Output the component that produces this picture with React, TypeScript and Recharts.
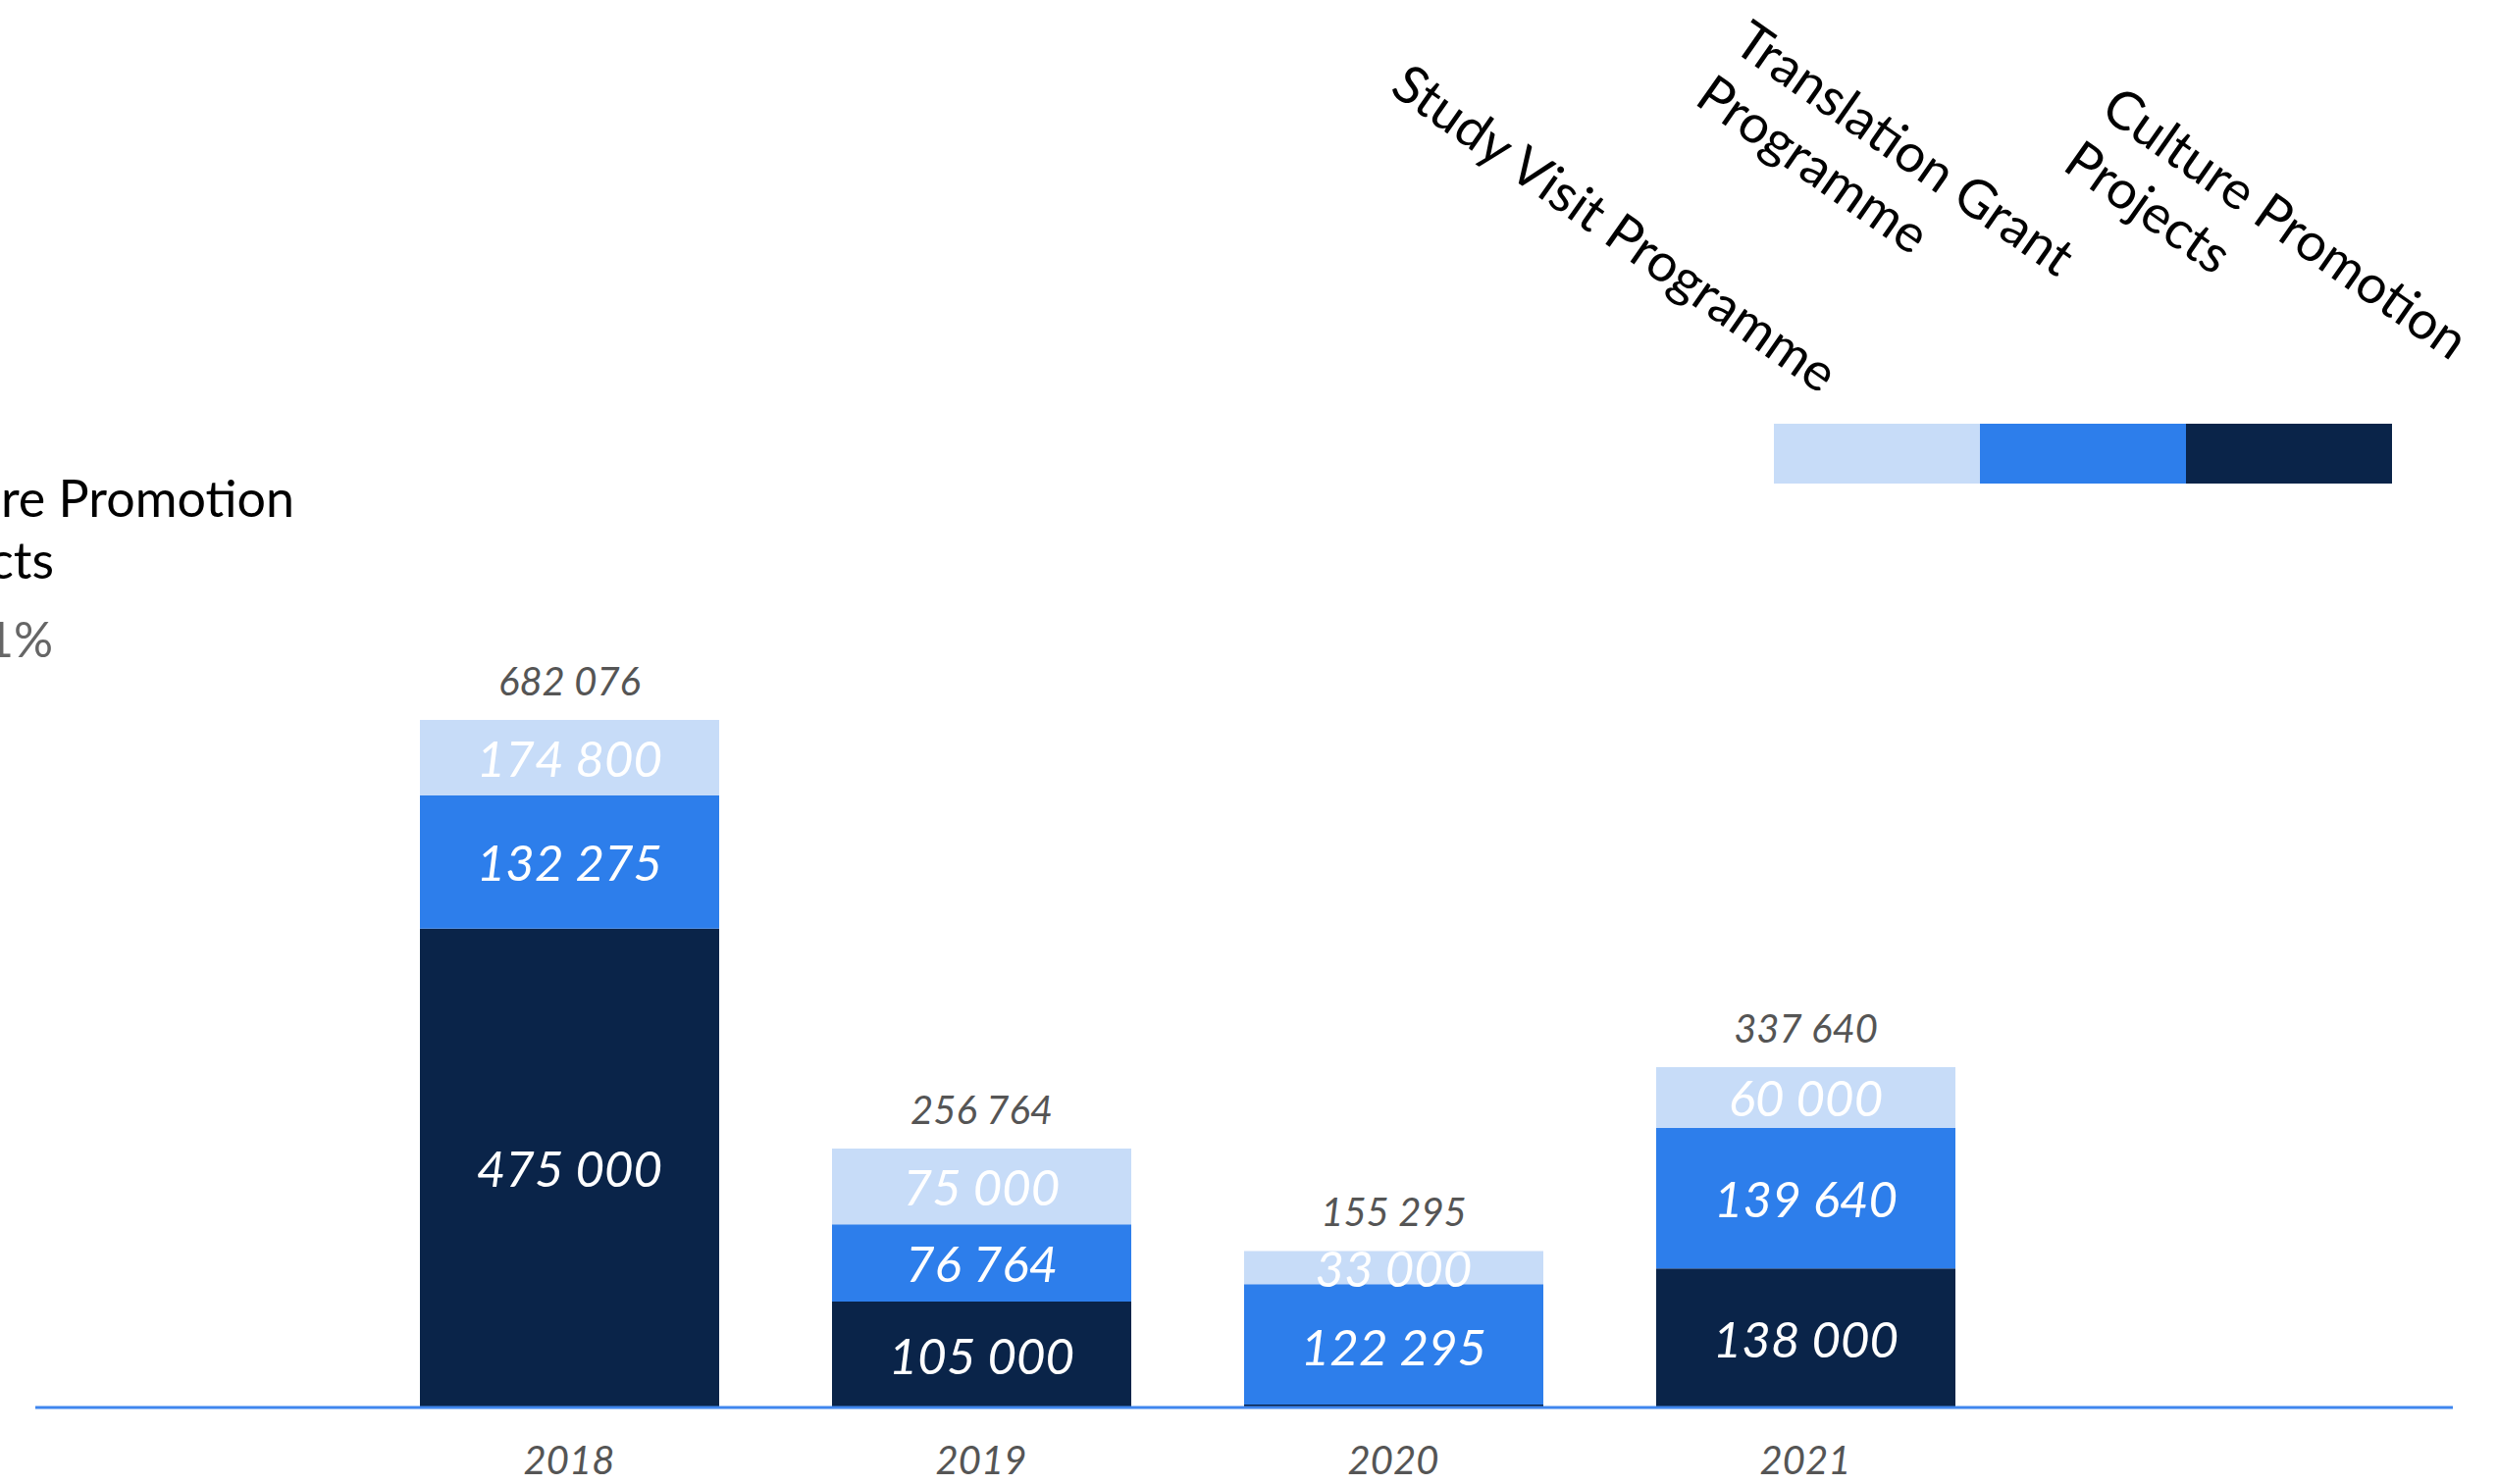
import React from "react";
import { BarChart, Bar, XAxis, YAxis, LabelList, Legend, Customized, Rectangle } from "recharts";

const years = ["2018", "2019", "2020", "2021"];
const culturePromotion = [475000, 105000, 0, 138000];
const translationGrant = [132275, 76764, 122295, 139640];
const studyVisit = [74801, 75000, 33000, 60000];
const studyVisitLabels = ["174 800", "75 000", "33 000", "60 000"];
const totals = [682076, 256764, 155295, 337640];

const seriesNames = ["Culture Promotion Projects", "Translation Grant Programme", "Study Visit Programme"];
const legendOrder = ["Study Visit Programme", "Translation Grant Programme", "Culture Promotion Projects"];
const legendLines: Record<string, string[]> = {
  "Study Visit Programme": ["Study Visit Programme"],
  "Translation Grant Programme": ["Translation Grant", "Programme"],
  "Culture Promotion Projects": ["Culture Promotion", "Projects"],
};
const noteLines = ["Culture Promotion", "Projects", "50.1%"];

const COLORS = { culture: "#0A2449", translation: "#2D7EEB", study: "#C7DCF8" };
const FONT = "Lato, 'Open Sans', sans-serif";

const data = years.map((year, i) => ({
  year,
  culture: culturePromotion[i],
  translation: translationGrant[i],
  study: studyVisit[i],
  studyLabel: studyVisitLabels[i],
  total: totals[i],
}));

const fmt = (v: number) => String(v).replace(/\B(?=(\d{3})+(?!\d))/g, " ");

const InsideLabel = (props: any) => {
  const { x, y, width, height, value } = props;
  if (value === 0 || value === null || value === undefined) return null;
  return (
    <text
      x={Number(x) + Number(width) / 2}
      y={Number(y) + Number(height) / 2}
      textAnchor="middle"
      dominantBaseline="central"
      fill="#ffffff"
      fontSize={51}
      fontStyle="italic"
      fontFamily={FONT}
    >
      {typeof value === "number" ? fmt(value) : value}
    </text>
  );
};

const TotalLabel = (props: any) => {
  const { x, y, width, value } = props;
  return (
    <text
      x={Number(x) + Number(width) / 2}
      y={Number(y) - 40}
      textAnchor="middle"
      dominantBaseline="central"
      fill="#555555"
      fontSize={40}
      fontStyle="italic"
      fontFamily={FONT}
    >
      {fmt(Number(value))}
    </text>
  );
};

// blue segment leaves room for the thin minimum-height dark segment when culture is 0
const TranslationShape = (props: any) => {
  const { payload, height } = props;
  if (payload && payload.culture === 0) {
    return <Rectangle {...props} height={Math.max(0, Number(height) - 3)} />;
  }
  return <Rectangle {...props} />;
};

const legendTextPos = [
  { x: 1415, y: 94 },
  { x: 1764, y: 50 },
  { x: 2139, y: 117 },
];

const LegendContent = (props: any) => {
  const items = [...(props.payload || [])].sort(
    (a: any, b: any) => legendOrder.indexOf(a.value) - legendOrder.indexOf(b.value)
  );
  const swX = 1808;
  const swW = 210;
  return (
    <svg width={2545} height={520} style={{ position: "absolute", left: 0, top: 0, overflow: "visible" }}>
      {items.map((p: any, i: number) => (
        <rect key={"s" + i} x={swX + i * swW} y={432} width={swW} height={61} fill={p.color} />
      ))}
      {items.map((p: any, i: number) => {
        const lines = legendLines[p.value] || [String(p.value)];
        const pos = legendTextPos[i];
        return (
          <text
            key={"t" + i}
            transform={`translate(${pos.x},${pos.y}) rotate(35)`}
            fontSize={54}
            fontFamily={FONT}
            fill="#000000"
          >
            {lines.map((l, j) => (
              <tspan key={j} x={0} dy={j === 0 ? 0 : 67}>
                {l}
              </tspan>
            ))}
          </text>
        );
      })}
    </svg>
  );
};

const SideNote = () => (
  <g fontFamily={FONT}>
    <text x={300} y={527} textAnchor="end" fontSize={52} fill="#000000">
      {noteLines[0]}
    </text>
    <text x={55} y={590} textAnchor="end" fontSize={52} fill="#000000">
      {noteLines[1]}
    </text>
    <text x={54} y={670} textAnchor="end" fontSize={50} fill="#666666">
      {noteLines[2]}
    </text>
  </g>
);

export default function App() {
  return (
    <div style={{ position: "fixed", left: 0, top: 0, width: 2545, height: 1513, background: "#ffffff" }}>
      <BarChart
        width={2545}
        height={1513}
        data={data}
        margin={{ top: 734, left: 36, right: 45, bottom: 18 }}
      >
        <XAxis
          dataKey="year"
          height={60}
          padding={{ left: 334, right: 450 }}
          axisLine={{ stroke: "#3F86EE", strokeWidth: 3 }}
          tickLine={false}
          tickMargin={34}
          tick={{ fill: "#555555", fontSize: 40, fontStyle: "italic", fontFamily: FONT }}
        />
        <YAxis hide domain={[0, "dataMax"]} />
        <Legend
          layout="horizontal"
          verticalAlign="middle"
          align="center"
          content={<LegendContent />}
          wrapperStyle={{ position: "absolute", left: 0, top: 0, width: 2545, height: 520 }}
        />
        <Bar dataKey="culture" name={seriesNames[0]} stackId="a" fill={COLORS.culture} barSize={305} minPointSize={3} isAnimationActive={false}>
          <LabelList dataKey="culture" content={<InsideLabel />} />
        </Bar>
        <Bar dataKey="translation" name={seriesNames[1]} stackId="a" fill={COLORS.translation} barSize={305} shape={<TranslationShape />} isAnimationActive={false}>
          <LabelList dataKey="translation" content={<InsideLabel />} />
        </Bar>
        <Bar dataKey="study" name={seriesNames[2]} stackId="a" fill={COLORS.study} barSize={305} isAnimationActive={false}>
          <LabelList dataKey="studyLabel" content={<InsideLabel />} />
          <LabelList dataKey="total" content={<TotalLabel />} />
        </Bar>
        <Customized component={SideNote} />
      </BarChart>
    </div>
  );
}
